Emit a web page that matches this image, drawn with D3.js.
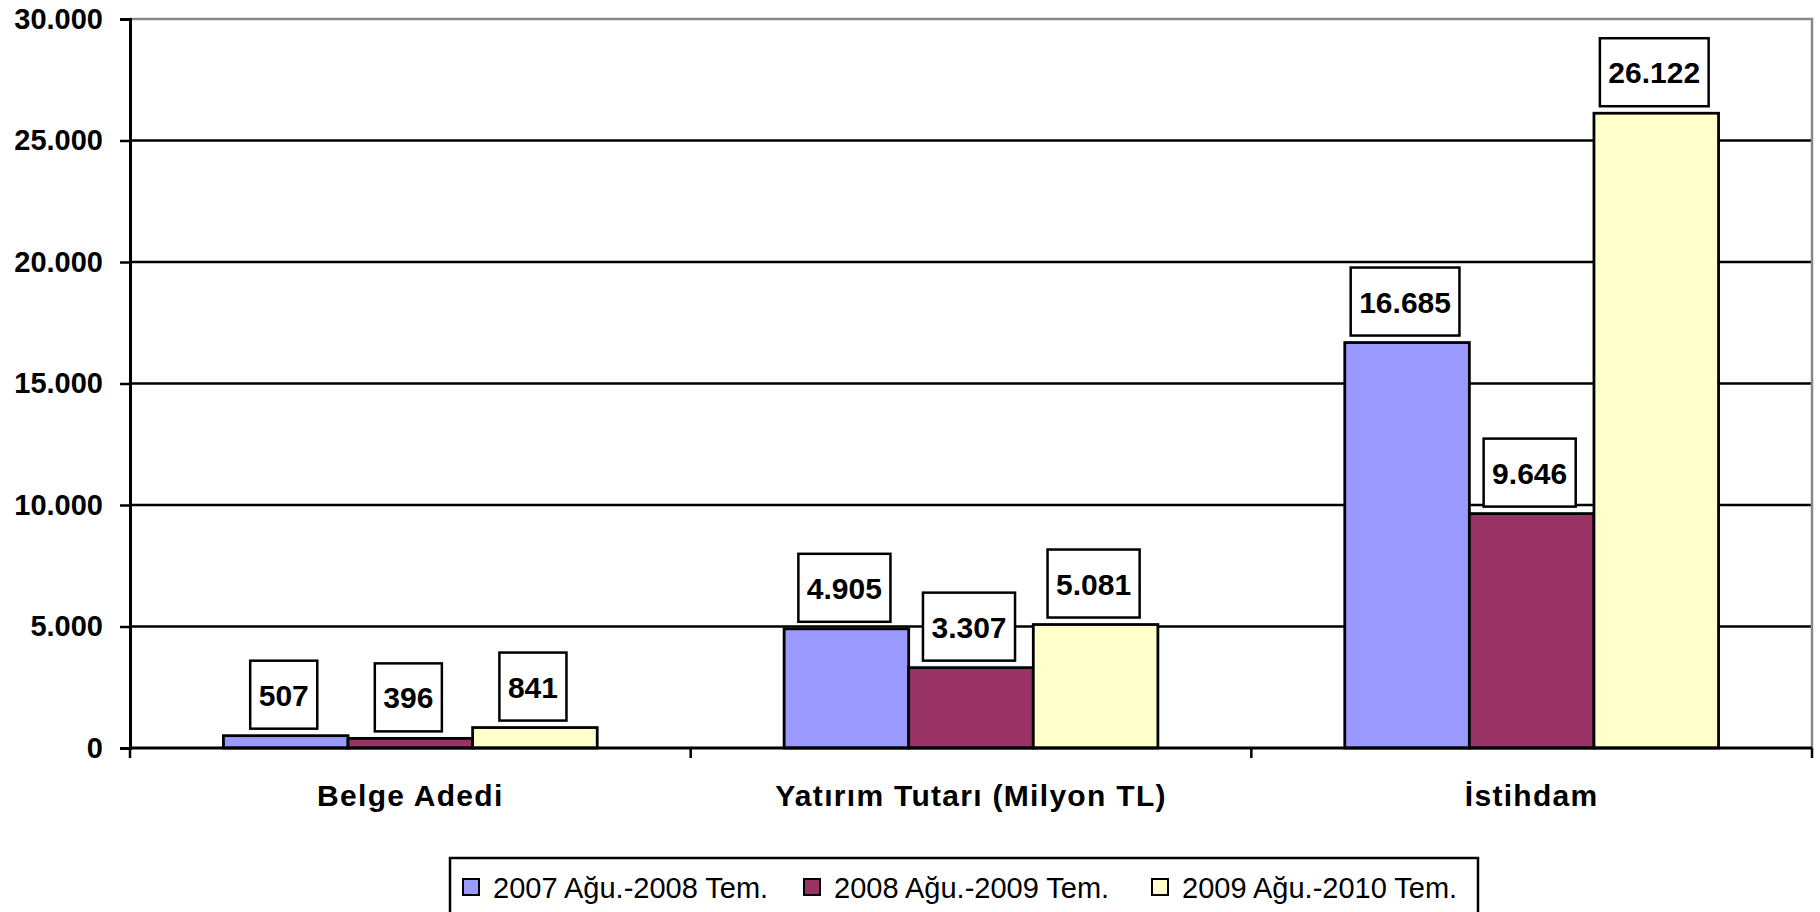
<!DOCTYPE html>
<html>
<head>
<meta charset="utf-8">
<script src="https://cdn.jsdelivr.net/npm/d3@7"></script>
<style>
  body { margin: 0; background: #fff; }
  svg { display: block; font-family: "Liberation Sans", Arial, sans-serif; }
</style>
</head>
<body>
<div id="chart"></div>
<script>
var categories = ["Belge Adedi", "Yatırım Tutarı (Milyon TL)", "İstihdam"];
var seriesNames = ["2007 Ağu.-2008 Tem.", "2008 Ağu.-2009 Tem.", "2009 Ağu.-2010 Tem."];
var series1 = [507, 4905, 16685];
var series2 = [396, 3307, 9646];
var series3 = [841, 5081, 26122];
var yTicks = [0, 5000, 10000, 15000, 20000, 25000, 30000];
var colors = ["#9999FF", "#993366", "#FFFFCC"];

var width = 1820, height = 912;
var plotLeft = 130, plotRight = 1812, plotTop = 19, plotBottom = 748;

var svg = d3.select("#chart").append("svg")
    .attr("width", width)
    .attr("height", height);

var fmt = d3.formatLocale({decimal: ",", thousands: ".", grouping: [3], currency: ["", ""]}).format(",d");

var y = d3.scaleLinear().domain([0, 30000]).range([plotBottom, plotTop]);
var x0 = d3.scaleBand().domain(categories).range([plotLeft, plotRight]).padding(0);
var x1 = d3.scaleBand().domain(seriesNames).range([0, x0.bandwidth()])
    .paddingInner(0).paddingOuter(0.75);

var allSeries = [series1, series2, series3];

// gridlines
svg.append("g").selectAll("line")
    .data(yTicks.filter(function(d) { return d > 0 && d < 30000; }))
    .enter().append("line")
    .attr("x1", plotLeft).attr("x2", plotRight)
    .attr("y1", function(d) { return y(d); })
    .attr("y2", function(d) { return y(d); })
    .style("stroke", "#000")
    .style("stroke-width", 2.5);

// plot border top / right (gray)
svg.append("path")
    .attr("d", "M" + plotLeft + "," + y(30000) + "H" + plotRight + "V" + plotBottom)
    .style("fill", "none")
    .style("stroke", "#888")
    .style("stroke-width", 2.5);

// bars
var groups = svg.append("g").selectAll("g")
    .data(categories)
    .enter().append("g")
    .attr("transform", function(d) { return "translate(" + x0(d) + ",0)"; });

groups.selectAll("rect")
    .data(function(d, i) {
        return seriesNames.map(function(s, j) { return {s: s, j: j, v: allSeries[j][i]}; });
    })
    .enter().append("rect")
    .attr("x", function(d) { return x1(d.s); })
    .attr("width", x1.bandwidth())
    .attr("y", function(d) { return y(d.v); })
    .attr("height", function(d) { return plotBottom - y(d.v); })
    .style("fill", function(d) { return colors[d.j]; })
    .style("stroke", "#000")
    .style("stroke-width", 2.8);

// y axis
var yAxis = d3.axisLeft(y).tickValues(yTicks).tickSize(10).tickFormat(fmt);
var ya = svg.append("g")
    .attr("transform", "translate(" + plotLeft + ",0)")
    .call(yAxis);
ya.select(".domain").style("stroke", "#000").style("stroke-width", 3);
ya.selectAll(".tick line").style("stroke", "#000").style("stroke-width", 2.5);
ya.selectAll(".tick text")
    .attr("x", -27)
    .style("font-family", "'Liberation Sans', Arial, sans-serif")
    .style("font-size", "29px")
    .style("font-weight", "bold")
    .style("fill", "#000");

// x axis
var xa = svg.append("g");
xa.append("line")
    .attr("x1", plotLeft).attr("x2", plotRight)
    .attr("y1", plotBottom).attr("y2", plotBottom)
    .style("stroke", "#000").style("stroke-width", 3);
xa.selectAll("line.tk")
    .data(categories.map(function(c) { return x0(c); }).concat([plotRight]))
    .enter().append("line")
    .attr("class", "tk")
    .attr("x1", function(d) { return d; }).attr("x2", function(d) { return d; })
    .attr("y1", plotBottom).attr("y2", plotBottom + 10)
    .style("stroke", "#000").style("stroke-width", 2.5);
xa.selectAll("text")
    .data(categories)
    .enter().append("text")
    .attr("x", function(d) { return x0(d) + x0.bandwidth() / 2; })
    .attr("y", 806)
    .attr("text-anchor", "middle")
    .style("font-size", "30px")
    .style("font-weight", "bold")
    .style("letter-spacing", "1.3px")
    .text(function(d) { return d; });

// data labels
var labels = groups.selectAll("g.lbl")
    .data(function(d, i) {
        return seriesNames.map(function(s, j) { return {s: s, j: j, v: allSeries[j][i]}; });
    })
    .enter().append("g")
    .attr("class", "lbl");

labels.each(function(d) {
    var g = d3.select(this);
    var cx = x1(d.s) + x1.bandwidth() / 2 - 2;
    var boxBottom = y(d.v) - 7;
    var rect = g.append("rect");
    var t = g.append("text")
        .attr("x", cx)
        .attr("y", boxBottom - 23)
        .attr("text-anchor", "middle")
        .style("font-size", "30px")
        .style("font-weight", "bold")
        .text(fmt(d.v));
    var w = t.node().getComputedTextLength() + 17;
    rect.attr("x", cx - w / 2)
        .attr("y", boxBottom - 68)
        .attr("width", w)
        .attr("height", 68)
        .style("fill", "#fff")
        .style("stroke", "#000")
        .style("stroke-width", 2.5);
});

// legend
var legend = svg.append("g");
legend.append("rect")
    .attr("x", 450).attr("y", 858)
    .attr("width", 1028).attr("height", 70)
    .style("fill", "#fff")
    .style("stroke", "#000")
    .style("stroke-width", 2.5);
var legX = [463, 804, 1152];
var items = legend.selectAll("g.item")
    .data(seriesNames)
    .enter().append("g")
    .attr("class", "item")
    .attr("transform", function(d, i) { return "translate(" + legX[i] + ",0)"; });
items.append("rect")
    .attr("x", 0).attr("y", 879)
    .attr("width", 16).attr("height", 16)
    .style("fill", function(d, i) { return colors[i]; })
    .style("stroke", "#000")
    .style("stroke-width", 2);
items.append("text")
    .attr("x", 30).attr("y", 898)
    .style("font-size", "29px")
    .text(function(d) { return d; });
</script>
</body>
</html>
